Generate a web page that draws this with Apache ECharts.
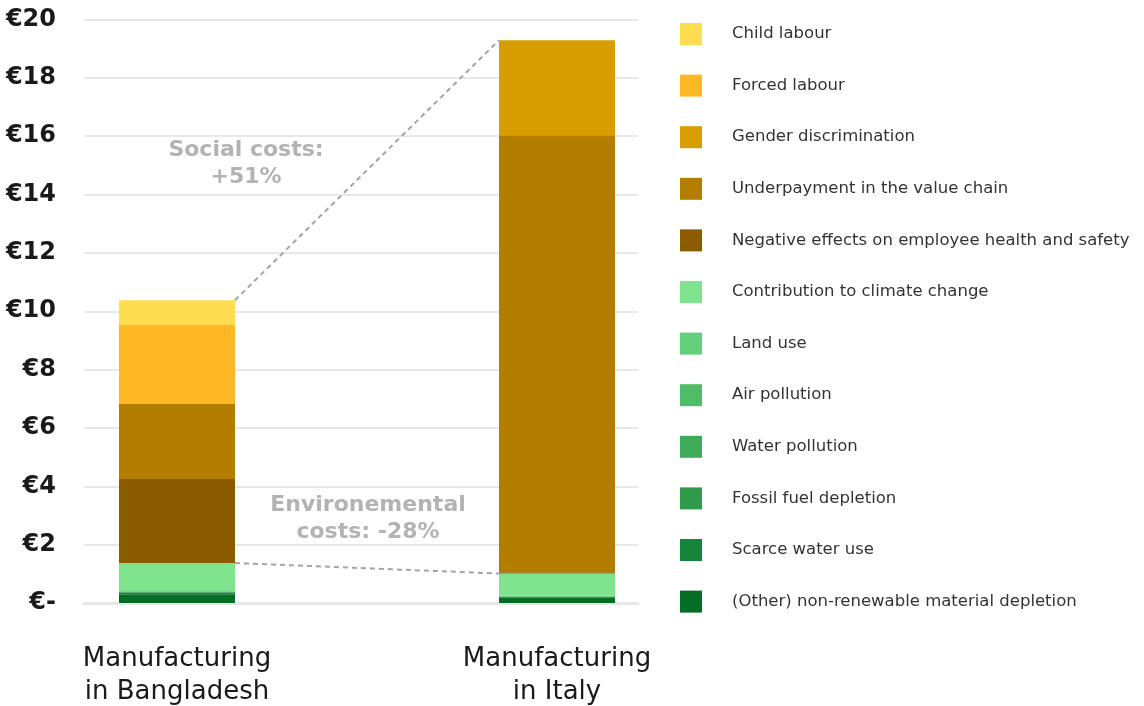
<!DOCTYPE html>
<html>
<head>
<meta charset="utf-8">
<script src="https://cdn.jsdelivr.net/npm/echarts@6/dist/echarts.min.js"></script>
<style>
  html, body { margin: 0; padding: 0; background: #ffffff; }
  #chart { width: 1144px; height: 706px; }
</style>
</head>
<body>
<div id="chart"></div>
<script>
// Cost per garment (EUR), split by impact category
const categories = ['Manufacturing\nin Bangladesh', 'Manufacturing\nin Italy'];
const yTicks = [0, 2, 4, 6, 8, 10, 12, 14, 16, 18, 20];

// legend order, top to bottom
const seriesNames = [
  'Child labour',
  'Forced labour',
  'Gender discrimination',
  'Underpayment in the value chain',
  'Negative effects on employee health and safety',
  'Contribution to climate change',
  'Land use',
  'Air pollution',
  'Water pollution',
  'Fossil fuel depletion',
  'Scarce water use',
  '(Other) non-renewable material depletion'
];
const seriesColors = [
  '#FFDD50', '#FFB823', '#D89E00', '#B37D00', '#8B5B00',
  '#80E48F', '#62CF7A', '#4FBC67', '#3EAB5A', '#2E9A4A', '#14853A', '#046D24'
];

// values [Bangladesh, Italy]
const childLabour       = [0.85, 0.00];
const forcedLabour      = [2.71, 0.00];
const genderDiscrim     = [0.00, 3.26];
const underpayment      = [2.57, 14.98];
const healthSafety      = [2.88, 0.04];
const climateChange     = [0.96, 0.76];
const landUse           = [0.01, 0.01];
const airPollution      = [0.01, 0.01];
const waterPollution    = [0.01, 0.01];
const fossilFuel        = [0.02, 0.01];
const scarceWater       = [0.06, 0.03];
const otherDepletion    = [0.30, 0.18];

const seriesValues = [
  childLabour, forcedLabour, genderDiscrim, underpayment, healthSafety,
  climateChange, landUse, airPollution, waterPollution, fossilFuel, scarceWater, otherDepletion
];
const socialIdx = [0, 1, 2, 3, 4];
const envIdx = [5, 6, 7, 8, 9, 10, 11];

const sumOf = (idxs, c) => idxs.reduce((s, i) => s + seriesValues[i][c], 0);
const totals = categories.map((_, c) => sumOf(socialIdx.concat(envIdx), c));
const envTotals = categories.map((_, c) => sumOf(envIdx, c));

const FONT = '"DejaVu Sans", Inter, sans-serif';
const BAR_W = 116;

// stacked bars, bottom-most category first
const barSeries = seriesNames.map((name, i) => ({
  name: name,
  type: 'bar',
  stack: 'cost',
  xAxisIndex: 1,
  yAxisIndex: 1,
  barWidth: BAR_W,
  clip: false,
  itemStyle: { color: seriesColors[i] },
  emphasis: { disabled: true },
  data: seriesValues[i]
})).reverse();

// dashed connectors from the Bangladesh bar's right edge to the Italy bar's left edge
const connectorSeries = {
  type: 'custom',
  xAxisIndex: 1,
  yAxisIndex: 1,
  silent: true,
  z: 1,
  encode: { x: 0, y: 1 },
  data: [
    [0, totals[0], 1, totals[1]],
    [0, envTotals[0], 1, envTotals[1]]
  ],
  renderItem: function (params, api) {
    const a = api.coord([api.value(0), api.value(1)]);
    const b = api.coord([api.value(2), api.value(3)]);
    return {
      type: 'line',
      shape: { x1: a[0] + BAR_W / 2, y1: a[1], x2: b[0] - BAR_W / 2, y2: b[1] },
      style: { stroke: '#a4a4a4', lineWidth: 2, lineDash: [5, 4] }
    };
  }
};

const chart = echarts.init(document.getElementById('chart'), null, { renderer: 'canvas' });
chart.setOption({
  animation: false,
  backgroundColor: '#ffffff',
  textStyle: { fontFamily: FONT },
  grid: [
    { left: 84, right: 506, top: 19.5, bottom: 103, outerBoundsMode: 'none', containLabel: false },
    { left: 177, right: 587, top: 19.5, bottom: 103, outerBoundsMode: 'none', containLabel: false }
  ],
  xAxis: [
    {
      gridIndex: 0, type: 'value', min: 0, max: 1,
      axisLabel: { show: false }, axisTick: { show: false }, splitLine: { show: false },
      axisLine: { show: true, lineStyle: { color: '#e6e6e6', width: 3 } }
    },
    {
      gridIndex: 1, type: 'category', data: categories, boundaryGap: false,
      axisLine: { show: false }, axisTick: { show: false },
      axisLabel: {
        margin: 40, color: '#1a1a1a', fontSize: 26,
        lineHeight: 33, fontFamily: FONT
      }
    }
  ],
  yAxis: [
    {
      gridIndex: 0, type: 'value', min: yTicks[0], max: yTicks[yTicks.length - 1], interval: 2,
      axisLine: { show: false }, axisTick: { show: false },
      splitLine: { lineStyle: { color: '#e8e8e8', width: 2 } },
      axisLabel: {
        margin: 28, color: '#1a1a1a', fontSize: 24, fontWeight: 'bold', fontFamily: FONT,
        formatter: v => (v === 0 ? '€-' : '€' + v)
      }
    },
    {
      gridIndex: 1, type: 'value', min: yTicks[0], max: yTicks[yTicks.length - 1], interval: 2,
      show: false, splitLine: { show: false }
    }
  ],
  legend: {
    orient: 'vertical',
    left: 675,
    top: 18,
    itemWidth: 22,
    itemHeight: 22,
    itemGap: 29.6,
    icon: 'rect',
    selectedMode: false,
    data: seriesNames,
    textStyle: {
      color: '#333333', fontSize: 16.5, fontFamily: FONT,
      padding: [0, 0, 0, 25]
    }
  },
  graphic: [
    {
      type: 'text', x: 246, y: 164, silent: true,
      style: {
        text: 'Social costs:\n+51%', textAlign: 'center', textVerticalAlign: 'middle',
        fill: '#b3b3b3', font: 'bold 22px ' + FONT, lineHeight: 27
      }
    },
    {
      type: 'text', x: 368, y: 519, silent: true,
      style: {
        text: 'Environemental\ncosts: -28%', textAlign: 'center', textVerticalAlign: 'middle',
        fill: '#b3b3b3', font: 'bold 22px ' + FONT, lineHeight: 27
      }
    }
  ],
  series: barSeries.concat([connectorSeries])
});
</script>
</body>
</html>
